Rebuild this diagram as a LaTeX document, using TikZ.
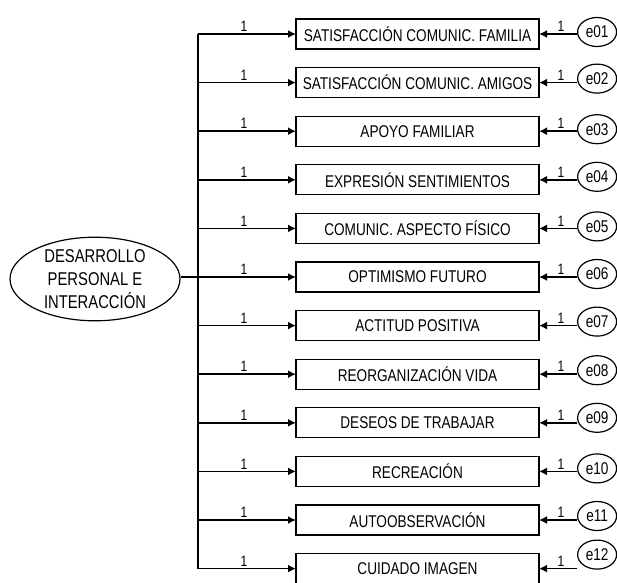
\documentclass[tikz,border=0pt]{standalone}
\usepackage{fontspec}
\setmainfont{Liberation Sans}[FakeStretch=0.80]
\usetikzlibrary{arrows.meta,positioning,shapes.geometric}

\begin{document}
\begin{tikzpicture}[x=1pt, y=-1pt,
  var/.style={draw, line width=1.2pt, minimum width=243pt, minimum height=30pt,
              inner sep=0pt, outer sep=0pt, font=\fontsize{17}{19}\selectfont},
  err/.style={draw, ellipse, line width=1.2pt, minimum width=39pt, minimum height=29pt,
              inner sep=0pt, font=\fontsize{17}{19}\selectfont},
  lat/.style={draw, ellipse, line width=1.2pt, minimum width=170pt, minimum height=74pt,
              inner sep=0pt, align=center, font=\fontsize{18.5}{23}\selectfont},
  arr/.style={-{Latex[length=8pt,width=8pt]}, line width=1.7pt},
  link/.style={line width=1.5pt},
  one/.style={above=1.5pt, inner sep=0pt, font=\fontsize{15}{17}\selectfont},
  node distance=18.6pt]
\useasboundingbox (0,0) rectangle (617,582);
% indicadores
\node[var] (famil) at (417.5,34) {SATISFACCIÓN COMUNIC. FAMILIA};
\node[var, below=of famil] (amigos) {SATISFACCIÓN COMUNIC. AMIGOS};
\node[var, below=of amigos] (apoyo) {APOYO FAMILIAR};
\node[var, below=of apoyo] (expr) {EXPRESIÓN SENTIMIENTOS};
\node[var, below=of expr] (fisico) {COMUNIC. ASPECTO FÍSICO};
\node[var, below=of fisico] (optim) {OPTIMISMO FUTURO};
\node[var, below=of optim] (actit) {ACTITUD POSITIVA};
\node[var, below=of actit] (reorg) {REORGANIZACIÓN VIDA};
\node[var, below=of reorg] (trabajo) {DESEOS DE TRABAJAR};
\node[var, below=of trabajo] (recre) {RECREACIÓN};
\node[var, below=of recre] (autoobs) {AUTOOBSERVACIÓN};
\node[var, below=of autoobs] (imagen) {CUIDADO IMAGEN};
% errores
\node[err, right=38pt of famil, yshift=2pt] (e01) {e01};
\node[err, right=38pt of amigos, yshift=4pt] (e02) {e02};
\node[err, right=38pt of apoyo, yshift=2pt] (e03) {e03};
\node[err, right=38pt of expr, yshift=3pt] (e04) {e04};
\node[err, right=38pt of fisico, yshift=2pt] (e05) {e05};
\node[err, right=38pt of optim, yshift=3pt] (e06) {e06};
\node[err, right=38pt of actit, yshift=4pt] (e07) {e07};
\node[err, right=38pt of reorg, yshift=4pt] (e08) {e08};
\node[err, right=38pt of trabajo, yshift=5pt] (e09) {e09};
\node[err, right=38pt of recre, yshift=3pt] (e10) {e10};
\node[err, right=38pt of autoobs, yshift=4pt] (e11) {e11};
\node[err, right=38pt of imagen, yshift=14pt] (e12) {e12};
% factor
\node[lat] (dpi) at (95,279) {DESARROLLO\\PERSONAL E\\INTERACCIÓN};
\coordinate[left=98pt of famil.west] (tronco);
\draw[link] (tronco) -- (tronco |- imagen.west);
\draw[link] (dpi.east |- optim.west) -- (tronco |- optim.west);
\draw[arr] (tronco |- famil.west) -- node[one, pos=0.47]{1} (famil);
\draw[arr] (tronco |- amigos.west) -- node[one, pos=0.47]{1} (amigos);
\draw[arr] (tronco |- apoyo.west) -- node[one, pos=0.47]{1} (apoyo);
\draw[arr] (tronco |- expr.west) -- node[one, pos=0.47]{1} (expr);
\draw[arr] (tronco |- fisico.west) -- node[one, pos=0.47]{1} (fisico);
\draw[arr] (tronco |- optim.west) -- node[one, pos=0.47]{1} (optim);
\draw[arr] (tronco |- actit.west) -- node[one, pos=0.47]{1} (actit);
\draw[arr] (tronco |- reorg.west) -- node[one, pos=0.47]{1} (reorg);
\draw[arr] (tronco |- trabajo.west) -- node[one, pos=0.47]{1} (trabajo);
\draw[arr] (tronco |- recre.west) -- node[one, pos=0.47]{1} (recre);
\draw[arr] (tronco |- autoobs.west) -- node[one, pos=0.47]{1} (autoobs);
\draw[arr] (tronco |- imagen.west) -- node[one, pos=0.47]{1} (imagen);
\draw[arr] (famil.east -| e01.west) -- node[one, pos=0.42]{1} (famil.east);
\draw[arr] (amigos.east -| e02.west) -- node[one, pos=0.42]{1} (amigos.east);
\draw[arr] (apoyo.east -| e03.west) -- node[one, pos=0.42]{1} (apoyo.east);
\draw[arr] (expr.east -| e04.west) -- node[one, pos=0.42]{1} (expr.east);
\draw[arr] (fisico.east -| e05.west) -- node[one, pos=0.42]{1} (fisico.east);
\draw[arr] (optim.east -| e06.west) -- node[one, pos=0.42]{1} (optim.east);
\draw[arr] (actit.east -| e07.west) -- node[one, pos=0.42]{1} (actit.east);
\draw[arr] (reorg.east -| e08.west) -- node[one, pos=0.42]{1} (reorg.east);
\draw[arr] (trabajo.east -| e09.west) -- node[one, pos=0.42]{1} (trabajo.east);
\draw[arr] (recre.east -| e10.west) -- node[one, pos=0.42]{1} (recre.east);
\draw[arr] (autoobs.east -| e11.west) -- node[one, pos=0.42]{1} (autoobs.east);
\draw[arr] (imagen.east -| e12.west) -- node[one, pos=0.42]{1} (imagen.east);
\end{tikzpicture}
\end{document}
